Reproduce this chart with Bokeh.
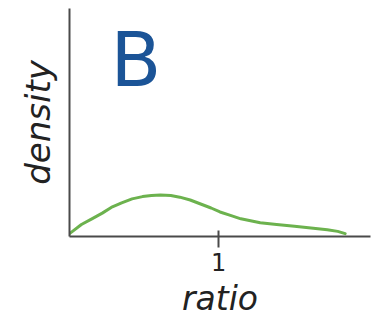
from bokeh.plotting import figure
from bokeh.models import Range1d, FixedTicker, Label
from bokeh.embed import file_html
from bokeh.resources import INLINE

# Density estimate of the ratio
ratio = [0.0, 0.08, 0.15, 0.22, 0.28, 0.35, 0.42, 0.49, 0.55, 0.61,
         0.68, 0.74, 0.81, 0.88, 0.95, 1.01, 1.08, 1.15, 1.28, 1.39,
         1.51, 1.62, 1.73, 1.80, 1.85]
density = [0.05, 0.21, 0.31, 0.41, 0.51, 0.59, 0.66, 0.70, 0.72, 0.73,
           0.72, 0.69, 0.64, 0.57, 0.50, 0.43, 0.37, 0.31, 0.24, 0.21,
           0.18, 0.15, 0.12, 0.09, 0.05]
x_ticks = [1]
panel_tag = "B"

AXIS_COLOR = "#4a4a4a"
TEXT_COLOR = "#222222"
FONT = "DejaVu Sans"

p = figure(width=380, height=320, output_backend="svg", toolbar_location=None,
           x_range=Range1d(0, 2.02), y_range=Range1d(0, 4),
           min_border_left=69, min_border_right=10,
           min_border_top=8, min_border_bottom=84)
p.outline_line_color = None
p.xgrid.visible = False
p.ygrid.visible = False

p.line(ratio, density, line_color="#6cb24e", line_width=3,
       line_join="round", line_cap="round")

# x axis: single tick at ratio = 1
xa = p.xaxis[0]
xa.ticker = FixedTicker(ticks=x_ticks)
xa.minor_tick_line_color = None
xa.axis_line_color = AXIS_COLOR
xa.axis_line_width = 2
xa.major_tick_line_color = AXIS_COLOR
xa.major_tick_line_width = 2
xa.major_tick_in = 6
xa.major_tick_out = 11
xa.major_label_standoff = 5
xa.major_label_text_font = FONT
xa.major_label_text_font_size = "24px"
xa.major_label_text_color = TEXT_COLOR
xa.axis_label = "ratio"
xa.axis_label_text_font = FONT
xa.axis_label_text_font_style = "italic"
xa.axis_label_text_font_size = "33px"
xa.axis_label_text_color = TEXT_COLOR
xa.axis_label_standoff = 5

# y axis: no ticks, label only
ya = p.yaxis[0]
ya.ticker = FixedTicker(ticks=[])
ya.minor_tick_line_color = None
ya.major_tick_in = 0
ya.major_tick_out = 0
ya.axis_line_color = AXIS_COLOR
ya.axis_line_width = 2
ya.axis_label = "density"
ya.axis_label_text_font = FONT
ya.axis_label_text_font_style = "italic"
ya.axis_label_text_font_size = "34px"
ya.axis_label_text_color = TEXT_COLOR
ya.axis_label_standoff = 12

p.add_layout(Label(x=0.275, y=3.09, text=panel_tag, text_font=FONT,
                   text_font_size="74px", text_color="#1b5497",
                   text_baseline="alphabetic"))

open("out.html", "w").write(file_html(p, INLINE))
